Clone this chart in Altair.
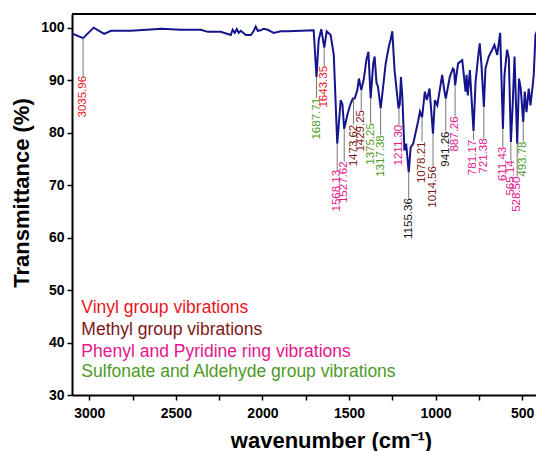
import altair as alt
import pandas as pd

# ---- spectrum ----
wavenumber = [3100, 3036, 2975, 2914, 2875, 2760, 2581, 2471, 2356, 2316, 2241, 2183, 2172, 2160,
              2148, 2137, 2125, 2096, 2067, 2050, 2039, 2027, 2010, 1993, 1970, 1952, 1935, 1894,
              1854, 1779, 1704, 1688, 1675, 1660, 1643, 1629, 1606, 1588, 1568, 1548, 1538, 1528,
              1508, 1492, 1478, 1467, 1452, 1443, 1429, 1414, 1400, 1388, 1375, 1360, 1352, 1341,
              1333, 1317, 1288, 1270, 1260, 1250, 1237, 1214, 1207, 1200, 1192, 1180, 1170, 1155,
              1144, 1129, 1100, 1090, 1078, 1062, 1050, 1035, 1015, 1004, 990, 962, 950, 941,
              918, 900, 893, 887, 870, 846, 837, 827, 821, 814, 802, 781, 769, 754, 745, 735,
              721, 712, 693, 673, 660, 644, 627, 611, 602, 587, 577, 565, 554, 544, 528.5, 518,
              508, 494, 485, 475, 462, 452, 439, 433, 423, 415]
transmittance = [98.9, 98.0, 100.0, 98.8, 99.4, 99.4, 99.8, 99.6, 99.6, 99.2, 99.2, 98.6, 99.6, 99.0,
                 99.7, 99.0, 99.4, 98.6, 98.6, 99.4, 100.2, 99.4, 99.5, 99.8, 99.6, 99.3, 99.0, 99.3,
                 99.3, 99.4, 99.5, 90.6, 97.7, 99.7, 96.2, 99.3, 98.6, 94.8, 77.9, 86.2, 85.4, 80.7,
                 83.6, 85.4, 86.5, 86.5, 88.1, 90.3, 88.1, 90.3, 93.8, 95.4, 86.5, 93.2, 94.5, 89.4,
                 88.8, 84.6, 93.2, 96.4, 97.7, 99.3, 91.9, 84.6, 85.4, 90.6, 86.8, 76.6, 77.9, 72.4,
                 77.2, 77.9, 82.3, 84.0, 82.9, 87.8, 86.2, 88.4, 79.8, 86.2, 85.2, 91.0, 88.1, 86.5,
                 90.6, 92.2, 91.9, 89.0, 93.2, 93.8, 91.0, 87.8, 91.0, 87.1, 91.9, 80.3, 89.7, 94.5, 97.0, 92.9,
                 84.9, 92.2, 94.5, 95.8, 96.7, 94.8, 99.0, 80.7, 91.0, 95.8, 94.2, 78.2, 85.8, 94.5, 77.9, 90.3,
                 88.4, 82.0, 87.8, 83.9, 88.4, 85.2, 89.0, 91.0, 98.6, 99.3]

# ---- peak annotations ----
peak_labels = ["3035.96", "1687.71", "1643.35", "1568.13", "1527.62", "1473.62", "1429.25",
               "1375.25", "1317.38", "1211.30", "1155.36", "1078.21", "1014.56", "941.26",
               "887.26", "781.17", "721.38", "611.43", "565.14", "528.50", "493.78"]
peak_wn = [3035.96, 1687.71, 1643.35, 1568.13, 1527.62, 1473.62, 1429.25, 1375.25, 1317.38,
           1211.30, 1155.36, 1078.21, 1014.56, 941.26, 887.26, 781.17, 721.38, 611.43, 565.14,
           528.50, 493.78]
peak_top = [98.0, 90.6, 96.1, 77.9, 80.8, 86.5, 88.1, 86.5, 84.6, 84.6, 72.3, 82.9, 79.8, 86.5,
            89.0, 80.2, 84.8, 80.8, 78.1, 77.9, 81.9]
peak_bottom = [90.8, 86.6, 92.7, 72.9, 74.5, 81.5, 84.3, 81.8, 79.5, 81.5, 67.5, 78.3, 73.6, 80.2,
               83.1, 78.6, 78.9, 77.3, 74.7, 71.6, 78.3]
peak_group = ["Vinyl", "Sulfonate", "Vinyl", "Phenyl", "Phenyl", "Methyl", "Methyl",
              "Sulfonate", "Sulfonate", "Phenyl", "Other", "Methyl", "Methyl", "Other",
              "Phenyl", "Phenyl", "Phenyl", "Phenyl", "Phenyl", "Phenyl", "Sulfonate"]

# ---- group key ----
group_names = ["Vinyl", "Methyl", "Phenyl", "Sulfonate", "Other"]
group_colors = ["#e8141c", "#7d1616", "#e5158a", "#4d9a26", "#111111"]
key_text = ["Vinyl group vibrations", "Methyl group vibrations",
            "Phenyl and Pyridine ring vibrations", "Sulfonate and Aldehyde group vibrations"]
key_group = ["Vinyl", "Methyl", "Phenyl", "Sulfonate"]
key_wn = [3046, 3046, 3046, 3046]
key_t = [46.6, 42.4, 38.2, 34.3]

x_ticks = [500, 750, 1000, 1250, 1500, 1750, 2000, 2250, 2500, 2750, 3000]
y_ticks = [30, 35, 40, 45, 50, 55, 60, 65, 70, 75, 80, 85, 90, 95, 100]

FONT = "Liberation Sans"

spec = pd.DataFrame({"wn": wavenumber, "t": transmittance})
peaks = pd.DataFrame({"wn": peak_wn, "label": peak_labels, "top": peak_top,
                      "bottom": peak_bottom, "group": peak_group})
keys = pd.DataFrame({"wn": key_wn, "t": key_t, "text": key_text, "group": key_group})

xscale = alt.Scale(domain=[3100, 420], nice=False, zero=False)
yscale = alt.Scale(domain=[30, 102.6], nice=False, zero=False)
cscale = alt.Scale(domain=group_names, range=group_colors)

xaxis = alt.Axis(values=x_ticks, format="d",
                 labelExpr="datum.value % 500 == 0 ? datum.label : ''",
                 title="wavenumber (cm⁻¹)", titleFontSize=22, titleFont=FONT,
                 titleFontWeight="bold", titleX=259, titleY=45, titleBaseline="middle",
                 titleAlign="center",
                 labelFont=FONT, labelFontSize=14, labelFontWeight="bold", labelPadding=6,
                 tickSize=5, tickWidth=1.5, tickColor="black", domainColor="black",
                 domainWidth=2, grid=False, labelColor="black", titleColor="black",
                 labelFlush=False)
yaxis = alt.Axis(values=y_ticks, format="d",
                 labelExpr="datum.value % 10 == 0 ? datum.label : ''",
                 title="Transmittance (%)", titleFontSize=22, titleFont=FONT,
                 titleFontWeight="bold", titleX=-51, titleY=178.5, titleAngle=270,
                 titleBaseline="middle", titleAlign="center",
                 labelFont=FONT, labelFontSize=14, labelFontWeight="bold", labelPadding=3,
                 tickSize=5, tickWidth=1.5, tickColor="black", domainColor="black",
                 domainWidth=2, grid=False, labelColor="black", titleColor="black",
                 labelFlush=False)

line = alt.Chart(spec).mark_line(color="#14148c", strokeWidth=2, clip=True).encode(
    x=alt.X("wn:Q", scale=xscale, axis=xaxis),
    y=alt.Y("t:Q", scale=yscale, axis=yaxis),
    order="wn:Q",
)

rules = alt.Chart(peaks).mark_rule(color="#777777", strokeWidth=1).encode(
    x=alt.X("wn:Q", scale=xscale),
    y=alt.Y("top:Q", scale=yscale),
    y2="bottom:Q",
)

labels = alt.Chart(peaks).mark_text(angle=270, align="right", baseline="middle",
                                     fontSize=11.5, font=FONT).encode(
    x=alt.X("wn:Q", scale=xscale),
    y=alt.Y("bottom:Q", scale=yscale),
    text="label:N",
    color=alt.Color("group:N", scale=cscale, legend=None),
)

key = alt.Chart(keys).mark_text(align="left", baseline="middle", fontSize=17.5,
                                 font=FONT).encode(
    x=alt.X("wn:Q", scale=xscale),
    y=alt.Y("t:Q", scale=yscale),
    text="text:N",
    color=alt.Color("group:N", scale=cscale, legend=None),
)

topline = alt.Chart(spec).mark_rule(color="black", strokeWidth=2).encode(
    x=alt.value(0), x2=alt.value(464), y=alt.value(0)
)

chart = alt.layer(line, rules, labels, key, topline).properties(
    width=464, height=381,
    padding={"left": 72, "top": 14, "right": 0, "bottom": 56},
    autosize=alt.AutoSizeParams(type="none"),
    background="white",
).configure_view(strokeWidth=0)

chart.save("out.html", embed_options={"renderer": "svg", "actions": False})
